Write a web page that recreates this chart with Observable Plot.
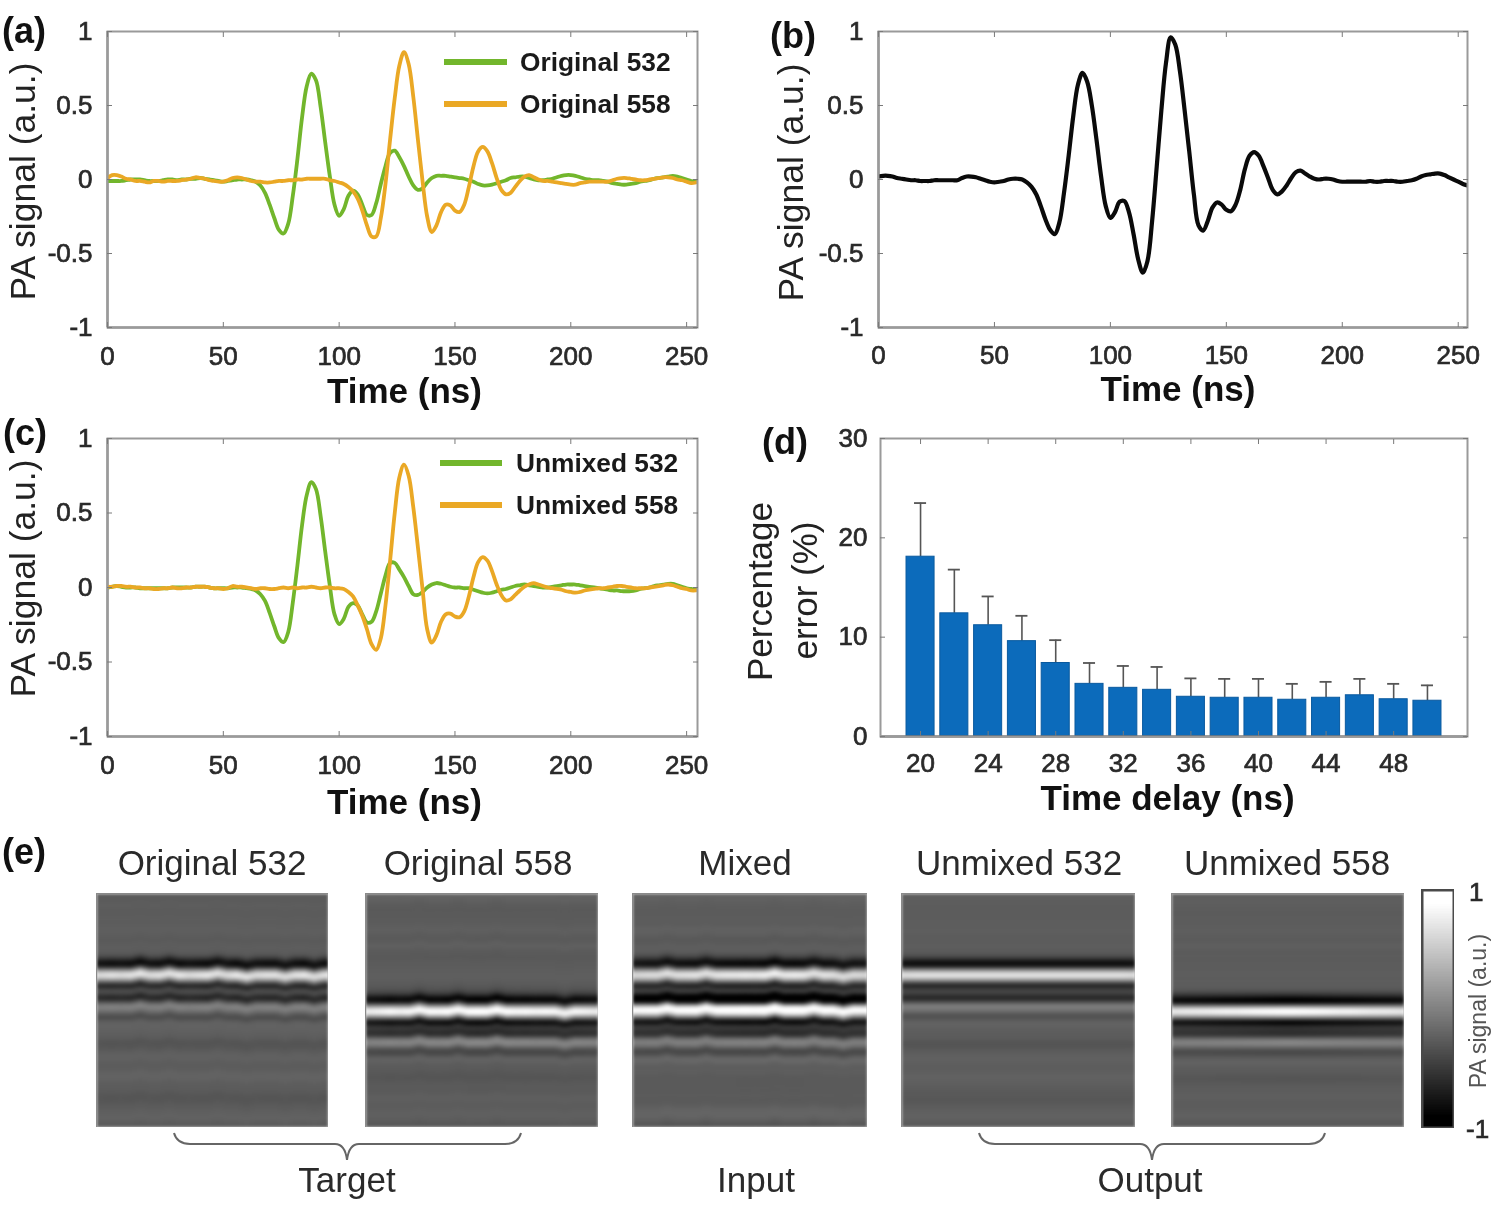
<!DOCTYPE html>
<html>
<head>
<meta charset="utf-8">
<script src="https://cdn.jsdelivr.net/npm/d3@7"></script>
<script src="https://cdn.jsdelivr.net/npm/@observablehq/plot@0.6"></script>
<style>
  html, body { margin: 0; padding: 0; background: #fff; }
  #fig { position: relative; width: 1500px; height: 1206px; overflow: hidden; filter: blur(0.6px); font-family: "Liberation Sans", Arial, sans-serif; }
  #fig svg { position: absolute; font-family: "Liberation Sans", Arial, sans-serif !important; }
  #fig svg text { font-family: "Liberation Sans", Arial, sans-serif; }
  g[aria-label$="tick label"] text { stroke: #2a2a2a; stroke-width: 0.7px; }
  svg.scan image { filter: blur(1.5px); }
</style>
</head>
<body>
<div id="fig"></div>
<script>
const original532 = [
 -0.01,-0.01,-0.01,-0.01,-0.005,0,0,0,-0.005,-0.01,
 -0.01,-0.01,-0.005,0,0,-0.005,0,0,0.005,0.005,
 0.01,0.005,0,-0.005,-0.01,-0.015,-0.01,-0.005,0,0,
 0,-0.005,-0.015,-0.04,-0.09,-0.17,-0.26,-0.34,-0.365,-0.3,
 -0.11,0.14,0.42,0.63,0.715,0.67,0.49,0.25,0.02,-0.17,
 -0.245,-0.2,-0.11,-0.075,-0.1,-0.17,-0.24,-0.24,-0.16,-0.03,
 0.09,0.18,0.195,0.15,0.09,0.02,-0.04,-0.07,-0.06,-0.02,
 0.01,0.025,0.025,0.025,0.02,0.015,0.01,0.005,-0.005,-0.015,
 -0.03,-0.04,-0.04,-0.035,-0.025,-0.015,-0.005,0.01,0.015,0.02,
 0.02,0.01,0,-0.005,-0.005,0,0.005,0.015,0.025,0.03,
 0.03,0.025,0.015,0.005,0,-0.005,-0.005,-0.01,-0.015,-0.025,
 -0.03,-0.035,-0.035,-0.03,-0.025,-0.015,-0.01,-0.005,0.005,0.01,
 0.015,0.02,0.025,0.02,0.01,0,-0.01,-0.015];
const original558 = [
 0.01,0.03,0.03,0.02,0.005,0,-0.01,-0.01,-0.015,-0.02,
 -0.01,-0.01,-0.015,-0.01,-0.01,-0.01,-0.005,0,0.005,0.015,
 0.01,0.005,-0.005,-0.01,-0.015,-0.015,-0.005,0.01,0.015,0.01,
 0,-0.01,-0.015,-0.015,-0.02,-0.02,-0.015,-0.01,-0.01,-0.005,
 -0.005,0,0,0.005,0.005,0.005,0.005,0.005,-0.005,-0.01,
 -0.02,-0.03,-0.05,-0.08,-0.13,-0.21,-0.31,-0.385,-0.385,-0.26,
 -0.03,0.27,0.55,0.77,0.86,0.78,0.56,0.27,-0.01,-0.25,
 -0.355,-0.31,-0.22,-0.17,-0.175,-0.21,-0.22,-0.17,-0.05,0.09,
 0.19,0.22,0.19,0.11,0.01,-0.07,-0.1,-0.09,-0.05,-0.01,
 0.02,0.03,0.015,0,-0.01,-0.01,-0.015,-0.02,-0.025,-0.03,
 -0.035,-0.035,-0.025,-0.02,-0.015,-0.015,-0.015,-0.015,-0.015,-0.005,
 0.005,0.01,0.01,0.005,0,-0.005,-0.005,0,0.005,0.01,
 0.015,0.015,0.01,0,-0.005,-0.015,-0.025,-0.02];
const mixed = [
 0.02,0.025,0.025,0.02,0.01,0.005,0,-0.005,-0.005,-0.01,
 -0.01,-0.01,-0.005,-0.005,-0.005,-0.005,-0.005,-0.005,0.01,0.02,
 0.02,0.015,0.005,-0.005,-0.015,-0.02,-0.015,-0.01,0,0.005,
 0.005,0,-0.02,-0.05,-0.1,-0.18,-0.27,-0.34,-0.37,-0.29,
 -0.09,0.16,0.43,0.64,0.72,0.66,0.5,0.27,0.02,-0.18,
 -0.26,-0.22,-0.15,-0.145,-0.22,-0.37,-0.54,-0.63,-0.55,-0.28,
 0.09,0.47,0.79,0.96,0.91,0.73,0.47,0.19,-0.1,-0.31,
 -0.345,-0.28,-0.19,-0.155,-0.17,-0.205,-0.215,-0.17,-0.07,0.07,
 0.16,0.185,0.16,0.09,0.01,-0.07,-0.1,-0.08,-0.04,0.01,
 0.05,0.06,0.04,0.02,0.005,0,0.005,0.005,0,-0.01,
 -0.015,-0.015,-0.015,-0.015,-0.015,-0.015,-0.01,-0.015,-0.015,-0.01,
 -0.01,-0.01,-0.015,-0.015,-0.01,-0.005,0.005,0.02,0.03,0.035,
 0.04,0.04,0.03,0.015,0,-0.015,-0.03,-0.04];
const unmixed532 = [
 0,0.005,0.01,0.005,0,0,0,-0.005,-0.005,-0.005,
 -0.005,-0.005,-0.005,-0.005,0,0,0,0,0,0.005,
 0.005,0.005,0,-0.005,-0.005,-0.005,-0.005,0,0,0,
 -0.005,-0.01,-0.02,-0.045,-0.09,-0.17,-0.26,-0.34,-0.367,-0.3,
 -0.1,0.15,0.42,0.62,0.707,0.66,0.48,0.24,0.01,-0.18,
 -0.245,-0.21,-0.13,-0.105,-0.12,-0.18,-0.235,-0.23,-0.16,-0.04,
 0.08,0.165,0.165,0.12,0.07,0.01,-0.045,-0.05,-0.03,0,
 0.02,0.03,0.025,0.015,0.005,0,0,-0.005,-0.005,-0.015,
 -0.025,-0.035,-0.04,-0.035,-0.025,-0.015,-0.01,0,0.01,0.015,
 0.02,0.015,0.01,0.005,0,0,0.005,0.01,0.015,0.02,
 0.02,0.02,0.015,0.01,0.005,0,-0.005,-0.01,-0.015,-0.02,
 -0.02,-0.025,-0.025,-0.025,-0.02,-0.01,-0.005,0,0.01,0.015,
 0.02,0.025,0.025,0.015,0.005,-0.005,-0.01,-0.015];
const unmixed558 = [
 0.005,0.005,0.01,0.01,0.005,0.005,0,0,-0.005,-0.005,
 -0.01,-0.01,-0.005,-0.005,0,-0.005,-0.005,0,0,0.005,
 0.005,0.005,0,-0.005,-0.005,-0.01,-0.005,0.01,0.005,0.005,
 0,-0.005,-0.01,-0.005,-0.005,-0.01,-0.01,-0.005,0,-0.005,
 0,-0.005,0,0,0.005,0,-0.005,0,0,-0.005,
 -0.005,-0.01,-0.03,-0.06,-0.12,-0.19,-0.28,-0.38,-0.418,-0.34,
 -0.12,0.18,0.5,0.74,0.825,0.75,0.54,0.27,-0.01,-0.28,
 -0.37,-0.32,-0.23,-0.18,-0.175,-0.195,-0.2,-0.16,-0.06,0.07,
 0.17,0.204,0.18,0.11,0.02,-0.05,-0.087,-0.08,-0.05,-0.02,
 0.005,0.02,0.03,0.02,0.01,0,-0.005,-0.01,-0.015,-0.025,
 -0.03,-0.035,-0.03,-0.02,-0.015,-0.01,-0.005,-0.005,0,0.005,
 0.01,0.01,0.005,0,-0.005,-0.005,-0.005,0,0.005,0.01,
 0.015,0.02,0.015,0.005,-0.005,-0.01,-0.02,-0.02];
const sampleTimes = original532.map((_, i) => i * 2);

// Panel (d)
const delays = [20,22,24,26,28,30,32,34,36,38,40,42,44,46,48,50];
const errorMeans = [18.1,12.4,11.2,9.6,7.4,5.3,4.9,4.7,4.0,3.9,3.9,3.7,3.9,4.15,3.75,3.6];
const errorUppers = [23.5,16.8,14.1,12.15,9.7,7.4,7.1,7.0,5.85,5.8,5.8,5.3,5.5,5.8,5.3,5.15];
const delayTicks = [20,24,28,32,36,40,44,48];

// Panel (e): per-column row offset and brightness of each B-scan
const columnOffsets = {
  o532: [0,0,0,0,1,0,0,1,0,0,0,0,1,0,0,-1,0,0,0,-1,0,0,-1,0],
  o558: [0,0,0,0,0,1,0,0,0,1,0,0,0,1,0,0,0,0,0,0,-1,0,0,0],
  mix:  [0,0,0,1,0,0,0,1,0,0,0,0,0,0,1,0,0,0,1,0,0,-1,0,0],
  u532: [0,0,0,0,0,0,0,0,0,0,0,0,0,0,0,0,0,0,0,0,0,0,0,0],
  u558: [0,0,0,0,0,0,0,0,0,0,0,0,0,0,0,0,0,0,0,0,0,0,0,0]
};
const columnGains = {
  o532: [0.95,1,0.95,1,1.05,0.95,1,1,1.05,0.95,1,1.05,1,0.95,1.05,1,0.95,1,1,0.95,1,1.05,0.95,1],
  o558: [0.92,0.95,1,0.95,0.98,1,1.02,1,1.05,1.02,1.05,1.08,1.05,1.08,1.05,1,1.02,0.98,1,0.98,0.95,0.98,0.95,0.92],
  mix:  [0.92,0.95,0.95,1,0.98,1,1.02,1,1.02,1.05,1.05,1.08,1.05,1.1,1.12,1.05,1.08,1.05,1,1.02,0.98,0.95,0.95,0.92],
  u532: [0.98,1,1,1,1,1,1,1,1,1,1,1,1,1,1,1,1,1,1,1,1,1,1,0.98],
  u558: [0.92,0.94,0.95,0.96,0.98,1,1,1.02,1.04,1.06,1.08,1.1,1.1,1.08,1.06,1.04,1.02,1,1,0.98,0.96,0.95,0.94,0.92]
};
const colorbarLevels = [1,0.75,0.5,0.25,0,-0.25,-0.5,-0.75,-1];

const timeTicks = [0,50,100,150,200,250];
const signalTicks = [-1,-0.5,0,0.5,1];
const GREEN = "#72b62c", ORANGE = "#eaa825", BLACK = "#0a0a0a", AXIS = "#7a7a7a", INK = "#2a2a2a";

const fig = document.getElementById("fig");
function place(svg, left, top) {
  svg.style.left = left + "px"; svg.style.top = top + "px";
  svg.style.background = "transparent"; svg.style.maxWidth = "none";
  fig.appendChild(svg);
}

function boxMarks(xTicks, yTicks, xOpt = {}, yOpt = {}) {
  const blank = () => "";
  return [
    Plot.frame({stroke: "#9a9a9a", strokeWidth: 2}),
    Plot.axisX({anchor: "bottom", ticks: xTicks, tickSize: -5, tickPadding: 24, fontSize: 26, stroke: AXIS, fill: INK, label: null, ...xOpt}),
    Plot.axisX({anchor: "top", ticks: xTicks, tickSize: -5, tickFormat: blank, stroke: AXIS, label: null}),
    Plot.axisY({anchor: "left", ticks: yTicks, tickSize: -5, tickPadding: 20, fontSize: 26, stroke: AXIS, fill: INK, label: null, tickFormat: d => String(d), ...yOpt}),
    Plot.axisY({anchor: "right", ticks: yTicks, tickSize: -5, tickFormat: blank, stroke: AXIS, label: null})
  ];
}

function signalPanel({left, top, w, h, mL, mR, mT, mB, domainX, series, lineWidth, xOpt, xlabelDy, xlabelDx = 0, ylabelDx, ylabelDy}) {
  const marks = [
    Plot.ruleX(domainX.slice(0,1), {stroke: "#666", strokeWidth: 2}),
    Plot.ruleY([-1], {stroke: "#666", strokeWidth: 2}),
    ...series.map(s => Plot.line(s.values, {
      x: (_, i) => sampleTimes[i], y: d => d,
      stroke: s.color, strokeWidth: lineWidth, curve: "catmull-rom", clip: true
    })),
    ...boxMarks(timeTicks, signalTicks, xOpt),
    Plot.text(["Time (ns)"], {frameAnchor: "bottom", dy: xlabelDy, dx: xlabelDx, fontSize: 35, fontWeight: "bold", fill: "#111", lineAnchor: "middle"}),
    Plot.text(["PA signal (a.u.)"], {frameAnchor: "left", dx: ylabelDx, dy: ylabelDy, rotate: -90, textAnchor: "middle", lineAnchor: "middle", fontSize: 35.5, fill: "#222"})
  ];
  const svg = Plot.plot({
    width: w, height: h, marginLeft: mL, marginRight: mR, marginTop: mT, marginBottom: mB,
    x: {domain: domainX, axis: null}, y: {domain: [-1, 1], axis: null}, marks
  });
  place(svg, left, top);
}

signalPanel({left: 0, top: 0, w: 720, h: 415, mL: 107, mR: 23, mT: 31, mB: 88, domainX: [0, 254.7], lineWidth: 3.8,
  series: [{values: original532, color: GREEN}, {values: original558, color: ORANGE}], xlabelDy: 64, xlabelDx: 2, ylabelDx: -84, ylabelDy: 2});
signalPanel({left: 750, top: 0, w: 750, h: 415, mL: 128, mR: 33, mT: 31, mB: 88, domainX: [0, 254], lineWidth: 4.2, xOpt: {tickPadding: 23},
  series: [{values: mixed, color: BLACK}], xlabelDy: 62, xlabelDx: 5, ylabelDx: -87, ylabelDy: 3});
signalPanel({left: 0, top: 415, w: 720, h: 415, mL: 107, mR: 23, mT: 23, mB: 94, domainX: [0, 254.7], lineWidth: 3.8,
  series: [{values: unmixed532, color: GREEN}, {values: unmixed558, color: ORANGE}], xlabelDy: 66, xlabelDx: 2, ylabelDx: -84, ylabelDy: -9});

// Panel (d)
{
  const rows = delays.map((t, i) => ({t, mean: errorMeans[i], upper: errorUppers[i]}));
  const svg = Plot.plot({
    width: 760, height: 415, marginLeft: 140, marginRight: 33, marginTop: 23, marginBottom: 94,
    x: {type: "band", domain: delays, paddingInner: 0.17, paddingOuter: 0.77, round: false, axis: null},
    y: {domain: [0, 30], axis: null},
    marks: [
      Plot.ruleX(rows, {x: "t", y1: "mean", y2: "upper", stroke: "#555", strokeWidth: 1.6}),
      Plot.tickY(rows, {x: "t", y: "upper", stroke: "#555", strokeWidth: 1.8, insetLeft: 8, insetRight: 8}),
      Plot.barY(rows, {x: "t", y: "mean", fill: "#0c6bbb", stroke: "#0a5a9f", strokeWidth: 1}),
      Plot.ruleY([0], {stroke: "#444", strokeWidth: 2}),
      ...boxMarks(delayTicks, [0,10,20,30], {tickPadding: 22}, {tickPadding: 18}),
      Plot.text(["Time delay (ns)"], {frameAnchor: "bottom", dy: 62, dx: -6.5, fontSize: 35, fontWeight: "bold", fill: "#111", lineAnchor: "middle"}),
      Plot.text(["Percentage"], {frameAnchor: "left", dx: -120, dy: 4, rotate: -90, textAnchor: "middle", lineAnchor: "middle", fontSize: 35, fill: "#222"}),
      Plot.text(["error (%)"], {frameAnchor: "left", dx: -75, dy: 3, rotate: -90, textAnchor: "middle", lineAnchor: "middle", fontSize: 35, fill: "#222"})
    ]
  });
  place(svg, 740, 415);
}

// Panel (e): B-scans built from the signals above
const nRows = sampleTimes.length;
function bscan(profile, offsets, gains) {
  const out = [];
  for (let r = 0; r < nRows; r++) {
    for (let c = 0; c < offsets.length; c++) {
      const k = Math.max(0, Math.min(nRows - 1, r + offsets[c]));
      out.push(profile[k] * gains[c]);
    }
  }
  return out;
}
const grayScale = {type: "linear", domain: [-0.42, 0, 0.85], range: ["#000000", "#5d5d5d", "#ffffff"], interpolate: "rgb", clamp: true};
const scans = [
  {left: 96,   w: 232, profile: original532, key: "o532"},
  {left: 365,  w: 233, profile: original558, key: "o558"},
  {left: 632,  w: 235, profile: mixed,       key: "mix"},
  {left: 901,  w: 234, profile: unmixed532,  key: "u532"},
  {left: 1171, w: 233, profile: unmixed558,  key: "u558"}
];
for (const s of scans) {
  const nCols = columnOffsets[s.key].length;
  const svg = Plot.plot({
    width: s.w, height: 234, margin: 0,
    x: {domain: [0, nCols], axis: null},
    y: {domain: [0, nRows], reverse: true, axis: null},
    color: grayScale,
    marks: [
      Plot.raster(bscan(s.profile, columnOffsets[s.key], columnGains[s.key]), {width: nCols, height: nRows, clip: true}),
      Plot.frame({stroke: "#8a8a8a", strokeWidth: 1.5})
    ]
  });
  svg.classList.add("scan");
  place(svg, s.left, 893);
}
// Colour bar
{
  const svg = Plot.plot({
    width: 33, height: 239, margin: 0,
    x: {domain: [0, 1], axis: null},
    y: {domain: [0, colorbarLevels.length], reverse: true, axis: null},
    color: {type: "linear", domain: [-1, 1], range: ["#000000", "#ffffff"], interpolate: "rgb"},
    marks: [
      Plot.raster(colorbarLevels, {width: 1, height: colorbarLevels.length}),
      Plot.frame({stroke: "#4a4a4a", strokeWidth: 4})
    ]
  });
  place(svg, 1421, 889);
}

// Annotation layer: panel tags, legends, titles, group labels and braces
const overlay = d3.select(fig).append("svg").attr("width", 1500).attr("height", 1206)
  .style("left", 0).style("top", 0).style("pointer-events", "none");
function label(text, x, y, size, {weight = "normal", anchor = "start", fill = "#222", rotate = 0, strokeW = 0} = {}) {
  const t = overlay.append("text").text(text)
    .attr("transform", `translate(${x},${y}) rotate(${rotate})`)
    .attr("font-size", size).attr("font-weight", weight)
    .attr("text-anchor", anchor).attr("dominant-baseline", "central").attr("fill", fill);
  if (strokeW) t.attr("stroke", fill).attr("stroke-width", strokeW);
}
[["(a)", 2, 30], ["(b)", 770, 35], ["(c)", 3, 432], ["(d)", 762, 441], ["(e)", 2, 851]]
  .forEach(([t, x, y]) => label(t, x, y, 36, {weight: "bold", fill: "#111"}));

const legends = [
  {x1: 444, x2: 507, tx: 520, y: 62,  text: "Original 532", color: GREEN},
  {x1: 444, x2: 507, tx: 520, y: 104, text: "Original 558", color: ORANGE},
  {x1: 440, x2: 502, tx: 516, y: 463, text: "Unmixed 532", color: GREEN},
  {x1: 440, x2: 502, tx: 516, y: 505, text: "Unmixed 558", color: ORANGE}
];
for (const l of legends) {
  overlay.append("line").attr("x1", l.x1).attr("x2", l.x2).attr("y1", l.y).attr("y2", l.y)
    .attr("stroke", l.color).attr("stroke-width", 6);
  label(l.text, l.tx, l.y, 26.3, {weight: "bold", fill: "#1a1a1a"});
}

[["Original 532", 212], ["Original 558", 478], ["Mixed", 745], ["Unmixed 532", 1019], ["Unmixed 558", 1287]]
  .forEach(([t, x]) => label(t, x, 862, 35, {anchor: "middle", fill: "#2a2a2a"}));
[["Target", 347], ["Input", 756], ["Output", 1150]]
  .forEach(([t, x]) => label(t, x, 1179, 35, {anchor: "middle", fill: "#2a2a2a"}));

function brace(x1, mid, x2) {
  const yT = 1133, yB = 1144, yTip = 1160;
  overlay.append("path").attr("fill", "none").attr("stroke", "#666").attr("stroke-width", 2)
    .attr("d", `M${x1},${yT} Q${x1 + 3},${yB} ${x1 + 16},${yB} L${mid - 12},${yB} Q${mid - 2},${yB} ${mid},${yTip} Q${mid + 2},${yB} ${mid + 12},${yB} L${x2 - 16},${yB} Q${x2 - 3},${yB} ${x2},${yT}`);
}
brace(174, 347, 521);
brace(979, 1152, 1325);

label("1", 1469, 892, 26, {strokeW: 0.7, fill: "#2a2a2a"});
label("-1", 1466, 1129, 26, {strokeW: 0.7, fill: "#2a2a2a"});
label("PA signal (a.u.)", 1478, 1011, 23, {anchor: "middle", rotate: -90, fill: "#555"});
</script>
</body>
</html>
